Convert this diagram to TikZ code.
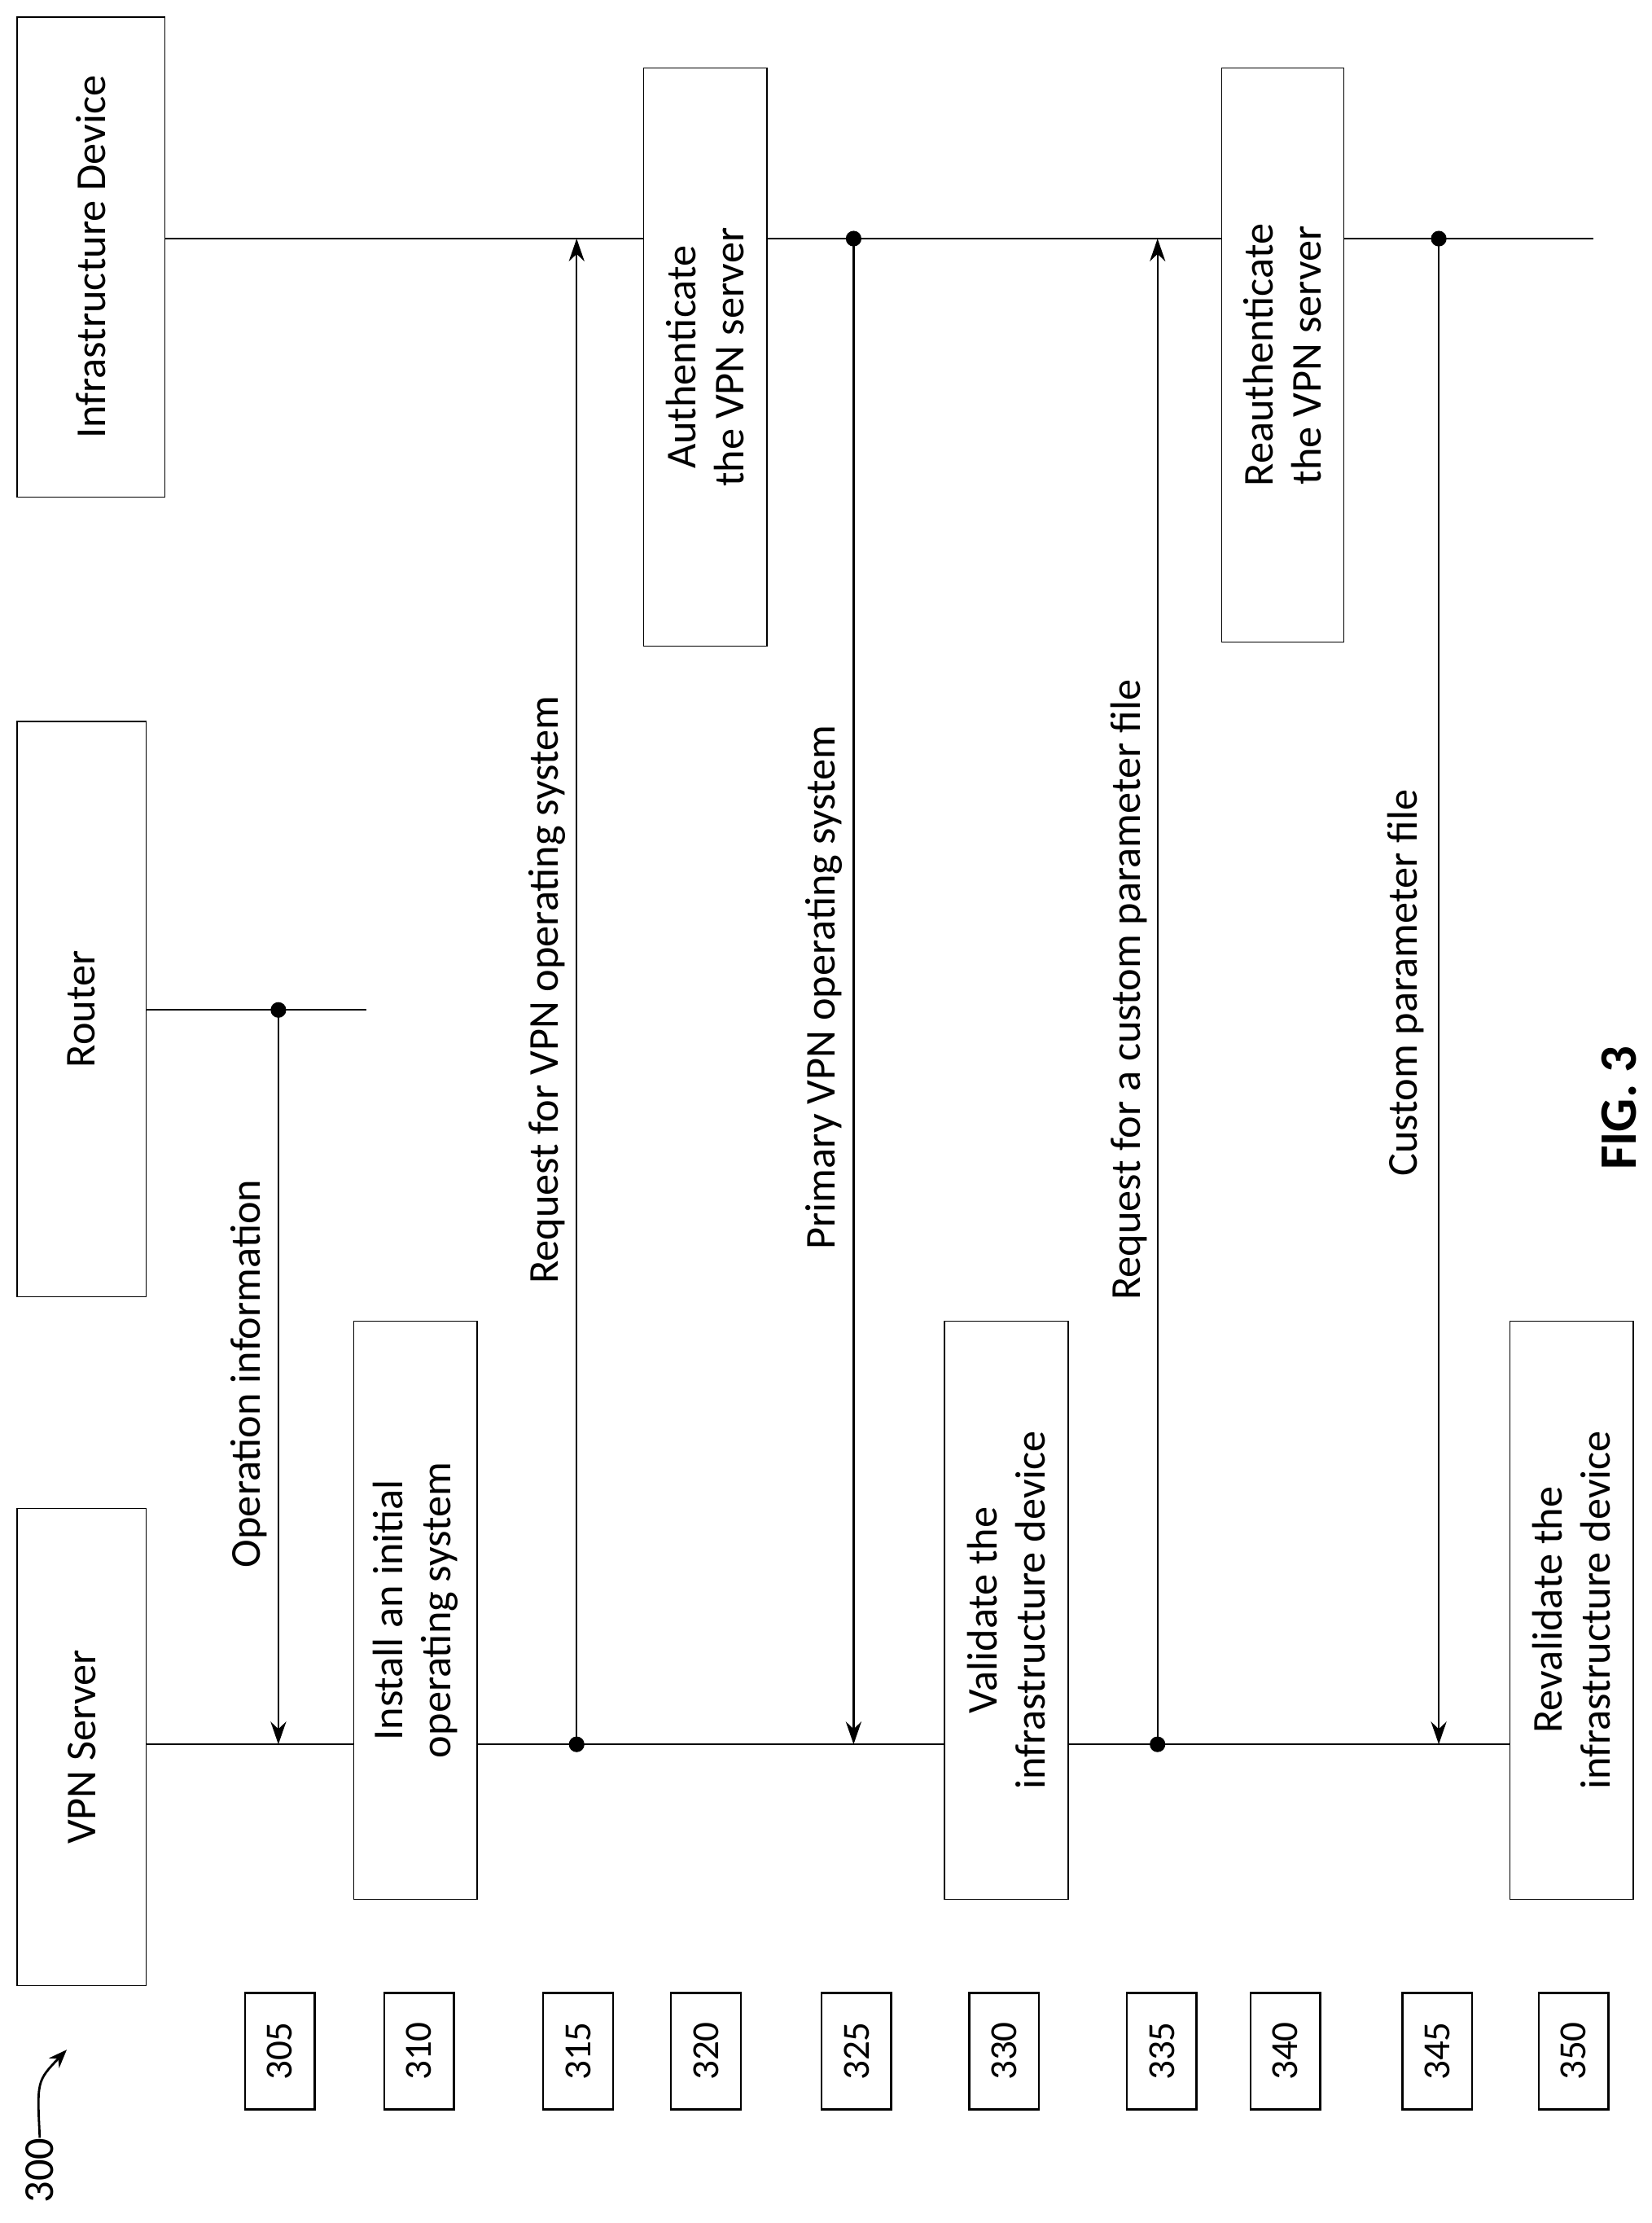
\documentclass[tikz,border=0pt]{standalone}
\usepackage{fontspec}
\setmainfont{Carlito}
\usetikzlibrary{arrows.meta}
\begin{document}
\begin{tikzpicture}[x=1pt,y=-1pt,
  box/.style={draw,line width=0.8pt,fill=white,rotate=90,align=center,inner sep=0pt,font=\fontsize{30}{34}\selectfont},
  num/.style={draw,line width=1.4pt,rotate=90,minimum width=82pt,minimum height=49pt,inner sep=0pt,font=\fontsize{27}{30}\selectfont},
  lbl/.style={rotate=90,font=\fontsize{30}{34}\selectfont,inner sep=0pt},
  life/.style={line width=1.3pt},
  msg/.style={line width=1.3pt,-{Stealth[length=16pt,width=11pt]}},
  dot/.style={circle,fill=black,inner sep=0pt,minimum size=11pt}]
\useasboundingbox (0,0) rectangle (1163.1,1565);
\coordinate (vpnL) at (0,1228);
\coordinate (rtL) at (0,711);
\coordinate (infL) at (0,168);
\node[box,minimum width=336pt,minimum height=91pt] (vpn) at (57.5,1230) {VPN Server};
\node[box,minimum width=405pt,minimum height=91pt] (router) at (57.5,710.5) {Router};
\node[box,minimum width=338pt,minimum height=104pt] (infra) at (64,181) {Infrastructure Device};
\node[box,minimum width=407pt,minimum height=87pt] (install) at (292.5,1133.5) {Install an initial\\operating system};
\node[box,minimum width=407pt,minimum height=87pt] (auth) at (496.5,251.5) {Authenticate\\the VPN server};
\node[box,minimum width=407pt,minimum height=87pt] (valid) at (708.5,1133.5) {Validate the\\infrastructure device};
\node[box,minimum width=404pt,minimum height=86pt] (reauth) at (903,250) {Reauthenticate\\the VPN server};
\node[box,minimum width=407pt,minimum height=87pt] (reval) at (1106.5,1133.5) {Revalidate the\\infrastructure device};
\coordinate (rtEnd) at (258,711);
\coordinate (infEnd) at (1122,168);
\draw[life] (vpn.south |- vpnL) -- (install.north |- vpnL);
\draw[life] (install.south |- vpnL) -- (valid.north |- vpnL);
\draw[life] (valid.south |- vpnL) -- (reval.north |- vpnL);
\draw[life] (router.south |- rtL) -- (rtEnd);
\draw[life] (infra.south |- infL) -- (auth.north |- infL);
\draw[life] (auth.south |- infL) -- (reauth.north |- infL);
\draw[life] (reauth.south |- infL) -- (infEnd);
\coordinate (a1) at (196,711); \coordinate (b1) at (196,1228);
\coordinate (a2) at (406,1228); \coordinate (b2) at (406,168);
\coordinate (a3) at (601,168); \coordinate (b3) at (601,1228);
\coordinate (a4) at (815,1228); \coordinate (b4) at (815,168);
\coordinate (a5) at (1013,168); \coordinate (b5) at (1013,1228);
\foreach \i in {1,...,5}{\draw[msg] (a\i) -- (b\i); \node[dot] at (a\i) {};}
\node[lbl] (l1) at (175,967) {Operation information};
\node[lbl] (l2) at (385,697) {Request for VPN operating system};
\node[lbl] (l3) at (580,695) {Primary VPN operating system};
\node[lbl] (l4) at (795,697) {Request for a custom parameter file};
\node[lbl] (l5) at (990,692) {Custom parameter file};
\foreach \n/\x in {305/197,310/295,315/407,320/497,325/603,330/707,335/818,340/905,345/1012,350/1108}
  \node[num] (s\n) at (\x,1444) {\n};
\node[lbl] (n300) at (28,1528) {300};
\coordinate (p300) at (47,1443);
\draw[line width=1.6pt,-{Stealth[length=13pt,width=10pt]}] (n300.east) .. controls (26,1465) .. (p300);
\node[lbl,font=\bfseries\fontsize{37}{40}\selectfont] (fig) at (1140,780) {FIG. 3};
\end{tikzpicture}
\end{document}
